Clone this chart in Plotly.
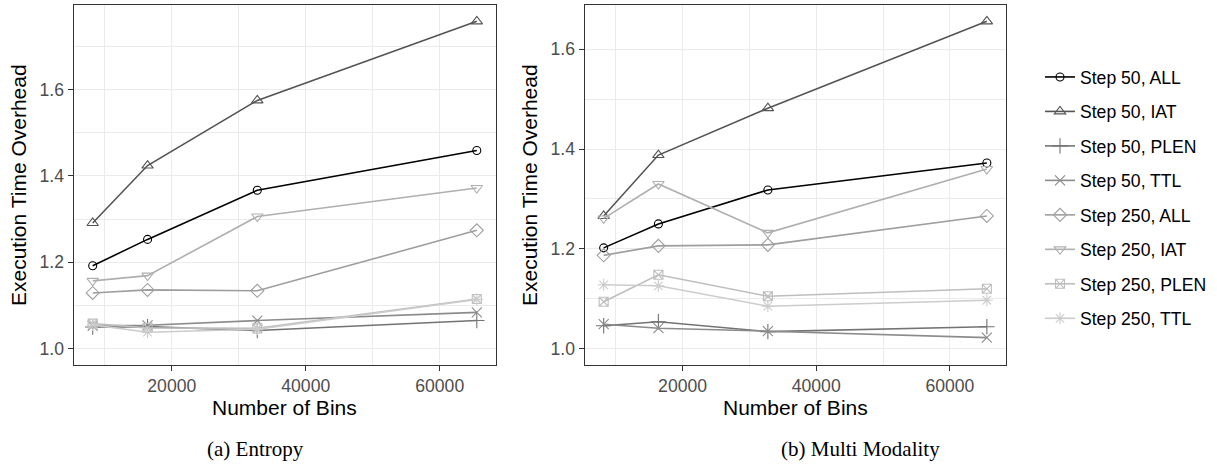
import plotly.graph_objects as go

# Number of histogram bins used for each run
bins = [8192, 16384, 32768, 65536]

series_names = [
    "Step 50, ALL", "Step 50, IAT", "Step 50, PLEN", "Step 50, TTL",
    "Step 250, ALL", "Step 250, IAT", "Step 250, PLEN", "Step 250, TTL",
]

# (a) Entropy: execution time overhead per configuration
entropy_all_50 = [1.192, 1.253, 1.367, 1.459]
entropy_iat_50 = [1.291, 1.424, 1.575, 1.758]
entropy_plen_50 = [1.050, 1.051, 1.042, 1.065]
entropy_ttl_50 = [1.053, 1.054, 1.065, 1.084]
entropy_all_250 = [1.129, 1.136, 1.134, 1.274]
entropy_iat_250 = [1.157, 1.169, 1.306, 1.372]
entropy_plen_250 = [1.058, 1.048, 1.047, 1.115]
entropy_ttl_250 = [1.055, 1.038, 1.045, 1.114]

# (b) Multi Modality: execution time overhead per configuration
mm_all_50 = [1.202, 1.250, 1.318, 1.372]
mm_iat_50 = [1.266, 1.388, 1.482, 1.656]
mm_plen_50 = [1.046, 1.054, 1.034, 1.044]
mm_ttl_50 = [1.049, 1.041, 1.035, 1.022]
mm_all_250 = [1.187, 1.206, 1.208, 1.266]
mm_iat_250 = [1.261, 1.330, 1.232, 1.360]
mm_plen_250 = [1.094, 1.148, 1.105, 1.120]
mm_ttl_250 = [1.128, 1.126, 1.085, 1.097]

entropy = [entropy_all_50, entropy_iat_50, entropy_plen_50, entropy_ttl_50,
           entropy_all_250, entropy_iat_250, entropy_plen_250, entropy_ttl_250]
multimodality = [mm_all_50, mm_iat_50, mm_plen_50, mm_ttl_50,
                 mm_all_250, mm_iat_250, mm_plen_250, mm_ttl_250]

# grey palette, dark to light
colors = ["#000000", "#545454", "#737373", "#8b8b8b",
          "#9e9e9e", "#afafaf", "#bebebe", "#cccccc"]
symbols = ["circle-open", "triangle-up-open", "cross-thin-open", "x-thin-open",
           "diamond-open", "triangle-down-open", "square-x-open", "asterisk-open"]
sizes = [8, 10, 11, 10, 10, 10, 9, 10]

W, H = 1217, 464
FONT = "Liberation Sans, Arial, sans-serif"
SERIF = "Liberation Serif, Times New Roman, serif"
TICK_COLOR = "#4d4d4d"
GRID = "#ebebeb"

fig = go.Figure()

for panel, (data, xa, ya) in enumerate([(entropy, "x", "y"), (multimodality, "x2", "y2")]):
    for i, name in enumerate(series_names):
        fig.add_trace(go.Scatter(
            x=bins, y=data[i], name=name, xaxis=xa, yaxis=ya,
            mode="lines+markers",
            line=dict(color=colors[i], width=1.6),
            marker=dict(symbol=symbols[i], size=sizes[i], color=colors[i],
                        line=dict(color=colors[i], width=1.1)),
            legendgroup=name, showlegend=(panel == 0),
        ))


def expand(lo, hi, mult=0.05):
    span = hi - lo
    return [lo - mult * span, hi + mult * span]


x_range = expand(min(bins), max(bins))


def y_range(data):
    vals = [v for s in data for v in s]
    return expand(min(1.0, min(vals)), max(vals))


def px_x(a, b):
    return [a / W, b / W]


y_dom = [1 - 365 / H, 1 - 5 / H]

axis_common = dict(
    showline=True, linecolor="#333333", linewidth=1, mirror=True,
    showgrid=True, gridcolor=GRID, gridwidth=1.1,
    ticks="outside", ticklen=5, tickwidth=1, tickcolor="#333333",
    tickfont=dict(family=FONT, size=17.6, color=TICK_COLOR),
    zeroline=False,
)

x_common = dict(axis_common, range=x_range, tick0=0, dtick=20000, tickformat="d",
                minor=dict(tick0=10000, dtick=20000, showgrid=True,
                           gridcolor=GRID, gridwidth=0.55, ticks=""))
y_common = dict(axis_common, tick0=1.0, dtick=0.2, tickformat=".1f",
                minor=dict(tick0=1.1, dtick=0.2, showgrid=True,
                           gridcolor=GRID, gridwidth=0.55, ticks=""))

fig.update_layout(
    width=W, height=H,
    margin=dict(l=0, r=0, t=0, b=0),
    paper_bgcolor="white", plot_bgcolor="white",
    xaxis=dict(x_common, domain=px_x(73.5, 496), anchor="y"),
    yaxis=dict(y_common, domain=y_dom, anchor="x", range=y_range(entropy)),
    xaxis2=dict(x_common, domain=px_x(584.5, 1006), anchor="y2"),
    yaxis2=dict(y_common, domain=y_dom, anchor="x2", range=y_range(multimodality)),
    legend=dict(
        x=1040 / W, y=1 - 59 / H, xanchor="left", yanchor="top",
        font=dict(family=FONT, size=17.6, color="black"),
        traceorder="grouped", tracegroupgap=8.6,
        itemwidth=30, bgcolor="rgba(0,0,0,0)",
    ),
    showlegend=True,
)

annotations = [
    # axis titles
    dict(text="Execution Time Overhead", x=18 / W, y=1 - 185 / H, textangle=-90,
         font=dict(family=FONT, size=21, color="black")),
    dict(text="Execution Time Overhead", x=529 / W, y=1 - 185 / H, textangle=-90,
         font=dict(family=FONT, size=21, color="black")),
    dict(text="Number of Bins", x=284.75 / W, y=1 - 407 / H,
         font=dict(family=FONT, size=21, color="black")),
    dict(text="Number of Bins", x=795.25 / W, y=1 - 407 / H,
         font=dict(family=FONT, size=21, color="black")),
    # sub-figure captions
    dict(text="(a) Entropy", x=255 / W, y=1 - 449 / H,
         font=dict(family=SERIF, size=21, color="black")),
    dict(text="(b) Multi Modality", x=860 / W, y=1 - 449 / H,
         font=dict(family=SERIF, size=21, color="black")),
]
for a in annotations:
    a.update(xref="paper", yref="paper", showarrow=False,
             xanchor="center", yanchor="middle")
fig.update_layout(annotations=annotations)

fig.write_html("out.html")
